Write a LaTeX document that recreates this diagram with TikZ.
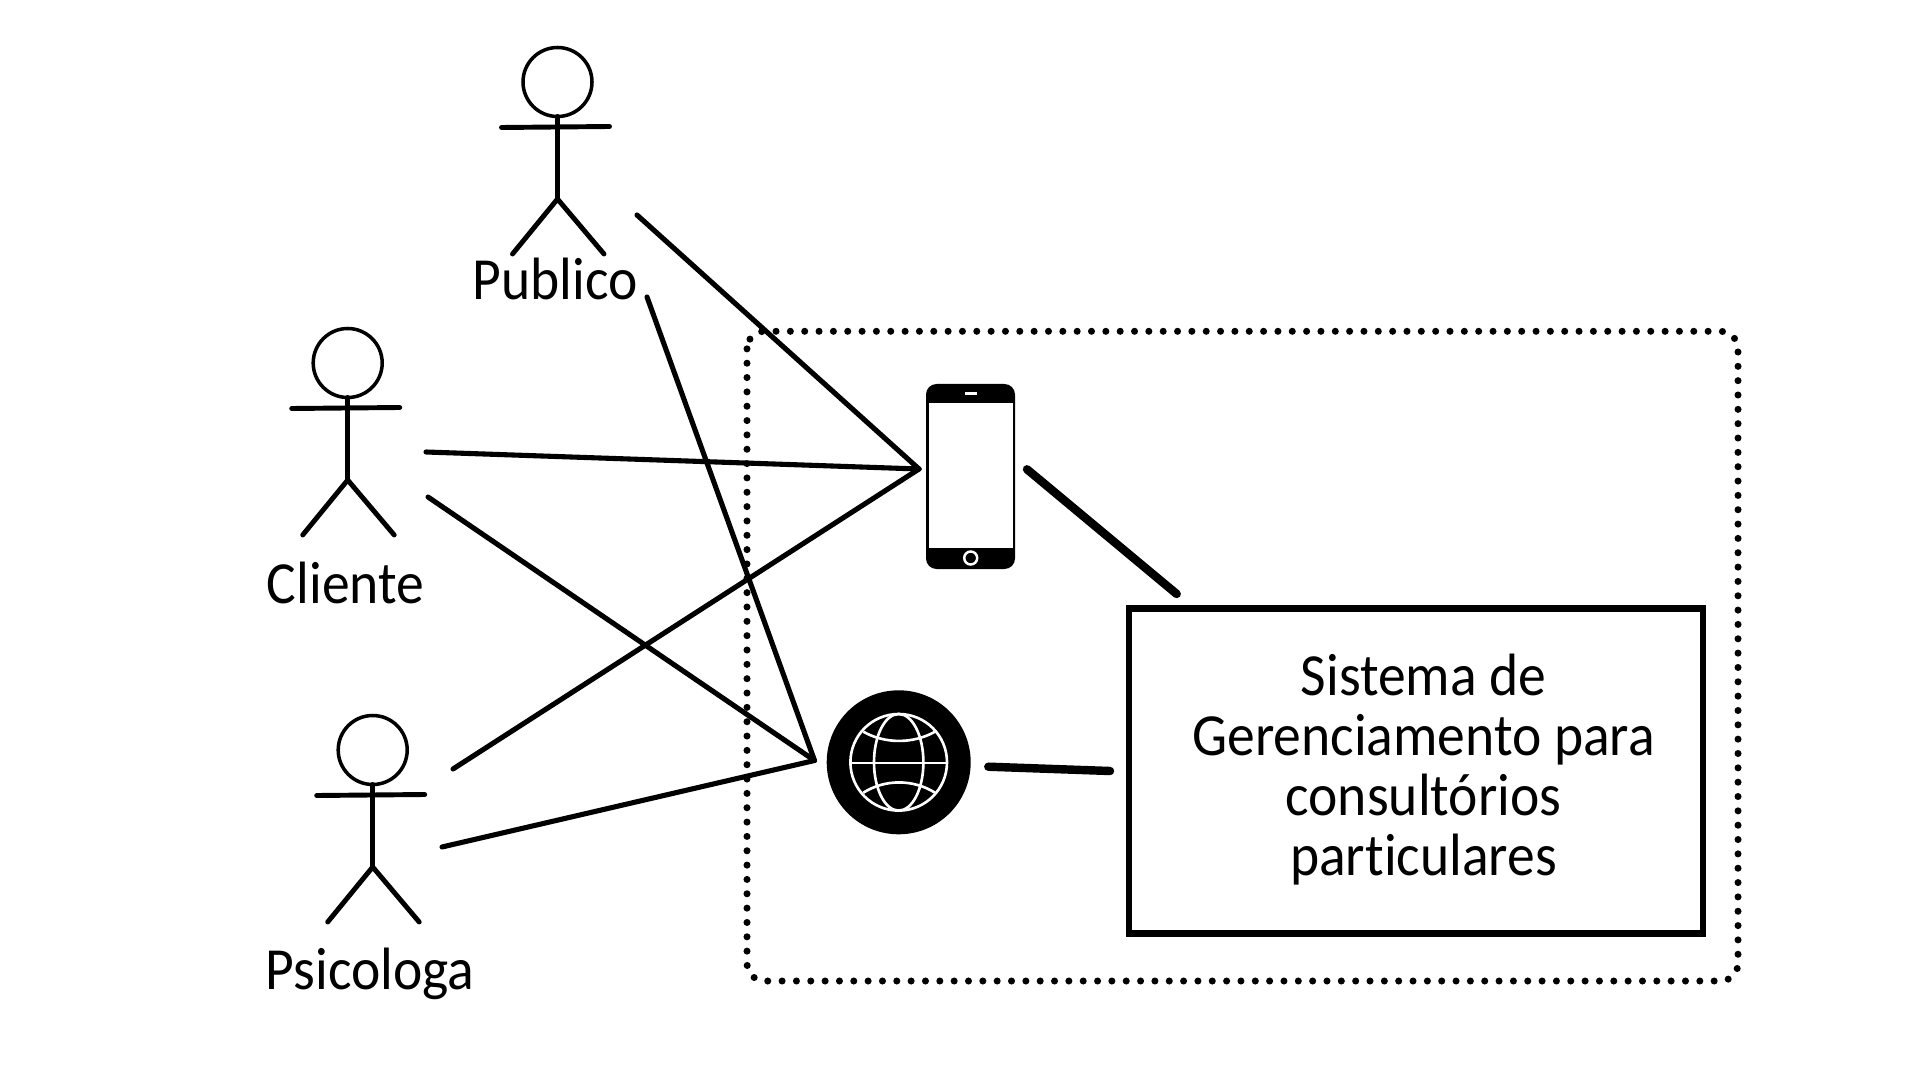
\documentclass[tikz,border=0pt]{standalone}
\usepackage{fontspec}
\setmainfont{Carlito}[Ligatures=NoCommon, FakeStretch=0.93]
\usetikzlibrary{calc}
\tikzset{
	actorline/.style={line width=1.4pt, line cap=round},
	link/.style={line width=1.45pt, line cap=round},
	thicklink/.style={line width=2.4pt, line cap=round},
	actorlabel/.style={font=\fontsize{17}{17}\selectfont, inner sep=0pt},
	whiteline/.style={white, line width=0.75pt},
	actor/.pic={
		\draw [line width=1pt] (0,0) circle (0.345);
		\draw [actorline] (0,0.345) -- (0,1.17);
		\draw [actorline] (-0.56,0.455) -- (0.52,0.445);
		\draw [actorline] (-0.45,1.72) -- (0,1.17) -- (0.465,1.72);
	}
}
\begin{document}
\begin{tikzpicture}[y=-1cm]
	\useasboundingbox (0,0) rectangle (19.2,10.8);
	%actors
	\pic at (5.575,0.82) {actor};
	\pic at (3.477,3.63) {actor};
	\pic at (3.727,7.50) {actor};
	\node [actorlabel] (publico) at (5.55,2.79) {Publico};
	\node [actorlabel] (cliente) at (3.455,5.83) {Cliente};
	\node [actorlabel] (psicologa) at (3.70,9.74) {Psicologa};
	%limit
	\draw [line width=2pt, line cap=round, dash pattern=on 0pt off 4.08pt, rounded corners=5pt] (7.47,3.313) rectangle (17.38,9.81);
	%system
	\node [draw, line width=1.95pt, minimum width=5.74cm, minimum height=3.245cm, inner sep=0pt] (sistema) at (14.16,7.71) {};
	\node [align=center, font=\fontsize{17}{17.07}\selectfont] (texto) at (14.235,7.70) {Sistema de\\Gerenciamento para\\consultórios\\particulares};
	%phone
	\fill [rounded corners=3pt] (9.26,3.84) rectangle (10.15,5.69);
	\fill [white] (9.285,4.033) rectangle (10.13,5.48);
	\fill [white] (9.645,3.925) rectangle (9.77,3.955);
	\draw [white, line width=0.7pt] (9.707,5.58) circle (0.065);
	\node [inner sep=0pt, minimum width=0.89cm, minimum height=1.85cm] (phone) at (9.705,4.765) {};
	%globe
	\fill (8.987,7.623) circle (0.72);
	\node [circle, inner sep=0pt, minimum size=1.44cm] (web) at (8.987,7.623) {};
	\draw [whiteline] (8.987,7.623) circle (0.483);
	\draw [whiteline] (8.987,7.623) ellipse (0.247 and 0.483);
	\draw [whiteline] (8.51,7.63) -- (9.46,7.63);
	\draw [whiteline] (8.633,7.317) .. controls (8.85,7.44) and (9.13,7.44) .. (9.35,7.317);
	\draw [whiteline] (8.633,7.927) .. controls (8.85,7.79) and (9.13,7.79) .. (9.35,7.927);
	%connectors
	\coordinate (publicoA) at (6.37,2.15);
	\coordinate (publicoB) at (6.47,2.97);
	\coordinate (clienteA) at (4.26,4.52);
	\coordinate (clienteB) at (4.28,4.97);
	\coordinate (psicologaA) at (4.53,7.69);
	\coordinate (psicologaB) at (4.42,8.47);
	\coordinate (phoneIn) at (9.19,4.69);
	\coordinate (webIn) at (8.145,7.605);
	\coordinate (phoneOut) at (10.27,4.693);
	\coordinate (sistemaIn) at (11.767,5.94);
	\coordinate (webOut) at (9.883,7.667);
	\coordinate (sistemaWeb) at (11.10,7.71);
	\draw [link] (publicoA) -- (phoneIn);
	\draw [link] (clienteA) -- (phoneIn);
	\draw [link] (psicologaA) -- (phoneIn);
	\draw [link] (publicoB) -- (webIn);
	\draw [link] (clienteB) -- (webIn);
	\draw [link] (psicologaB) -- (webIn);
	\draw [thicklink] (phoneOut) -- (sistemaIn);
	\draw [thicklink] (webOut) -- (sistemaWeb);
\end{tikzpicture}
\end{document}
